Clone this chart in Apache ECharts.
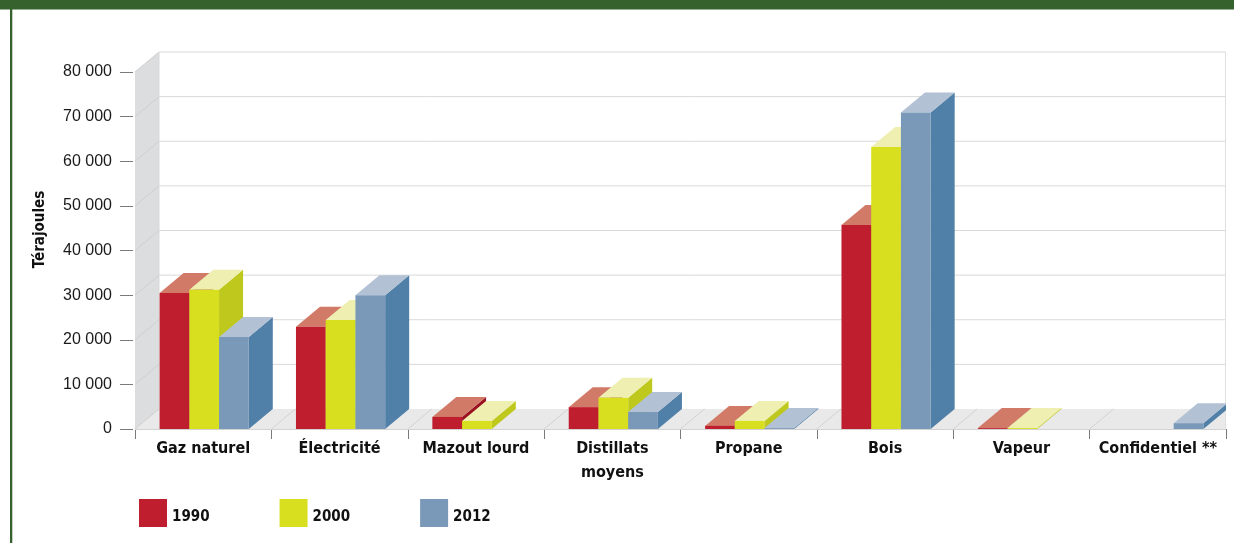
<!DOCTYPE html>
<html><head><meta charset="utf-8">
<style>html,body{margin:0;padding:0;background:#fff}#c{width:1234px;height:543px}</style>
<script src="https://cdn.jsdelivr.net/npm/echarts@6/dist/echarts.min.js"></script>
</head><body><div id="c"></div>
<script>
const categories = ['Gaz naturel','Électricité','Mazout lourd','Distillats\nmoyens','Propane','Bois','Vapeur','Confidentiel **'];
const years = ['1990','2000','2012'];
const values1990 = [30500,22900,2700,4900,700,45700,200,null];
const values2000 = [31200,24400,1800,7000,1800,63200,200,null];
const values2012 = [20600,30000,null,3800,200,70900,null,1300];
const yTicks = [0,10000,20000,30000,40000,50000,60000,70000,80000];

const frontColors = ['#bf1e2e','#d7df1e','#7a98b8'];
const topColors = ['#d27a68','#eeefb0','#b2c1d3'];
const sideColors = ['#9a1020','#bfc81c','#5080a8'];
const DX = 24, DY = 20, LABEL_FONT = '"DejaVu Sans Condensed",Roboto,sans-serif';

function poly(points, fill){ return {type:'polygon', shape:{points}, style:{fill}}; }
function line(x1,y1,x2,y2,stroke){ return {type:'line', shape:{x1,y1,x2,y2}, style:{stroke, lineWidth:1}}; }

function renderWalls(params, api){
  const band = api.size([1,0])[0];
  const c0 = api.coord([0,0]);
  const left = c0[0]-band/2, right = left+band*categories.length, bottom = c0[1];
  const top = api.coord([0,yTicks[yTicks.length-1]])[1];
  const ch = [];
  ch.push(poly([[left,top],[left+DX,top-DY],[left+DX,bottom-DY],[left,bottom]],'#dcddde'));
  ch.push(poly([[left,bottom],[left+DX,bottom-DY],[right,bottom-DY],[right,bottom]],'#e9e9e9'));
  yTicks.forEach(v=>{
    const y = api.coord([0,v])[1];
    if(v>0) ch.push(line(left+DX,y-DY,right,y-DY,'#d9d9d9'));
    ch.push(line(left,y,left+DX,y-DY,'#cfcfcf'));
  });
  categories.forEach((c,i)=>{
    if(i===0) return;
    const x = left+band*i;
    ch.push(line(x,bottom,x+DX,bottom-DY,'#d2d2d2'));
  });
  ch.push(line(left+DX,top-DY,left+DX,bottom-DY,'#d9d9d9'));
  ch.push(line(right-.5,top-DY,right-.5,bottom,'#e0e0e0'));
  ch.push(line(left,bottom+.5,right,bottom+.5,'#d2d2d2'));
  return {type:'group', children:ch};
}

function renderBar(s){
  return function(params, api){
    const band = api.size([1,0])[0];
    const w = band*0.218;
    const idx = api.value(0), val = api.value(1);
    const c = api.coord([idx,val]), b = api.coord([idx,0]);
    const x0 = c[0]+1+(s-1.5)*w, x1 = x0+w, yt = c[1], yb = b[1];
    return {type:'group', children:[
      poly([[x1,yt],[x1+DX,yt-DY],[x1+DX,yb-DY],[x1,yb]],sideColors[s]),
      poly([[x0,yt],[x0+DX,yt-DY],[x1+DX,yt-DY],[x1,yt]],topColors[s]),
      {type:'rect', shape:{x:x0,y:yt,width:w,height:yb-yt}, style:{fill:frontColors[s]}}
    ]};
  };
}
function rows(arr){ return arr.map((v,i)=>[i,v]).filter(r=>r[1]!==null); }

const chart = echarts.init(document.getElementById('c'),null,{renderer:'canvas'});
chart.setOption({
  animation:false,
  backgroundColor:'#fff',
  grid:{left:135,right:8,top:72,height:357,containLabel:false},
  graphic:[
    {type:'rect',left:0,top:0,shape:{width:1234,height:9.5},style:{fill:'#36622e'},z:10},
    {type:'rect',left:10,top:0,shape:{width:2.3,height:543},style:{fill:'#36622e'},z:10}
  ],
  legend:{
    left:139,top:499,padding:0,itemWidth:28,itemHeight:28,itemGap:70,icon:'rect',
    data:years,
    formatter:n=>'{a|'+n+'}',
    textStyle:{color:'#111',rich:{a:{fontFamily:LABEL_FONT,fontWeight:'bold',fontSize:15,color:'#111',padding:[8,0,0,0]}}}
  },
  xAxis:{
    type:'category',data:categories,offset:4,
    axisLine:{show:false},
    axisTick:{show:true,length:10,lineStyle:{color:'#7a7a7a',width:1}},
    axisLabel:{interval:0,margin:4,fontFamily:LABEL_FONT,fontWeight:'bold',fontSize:16,lineHeight:24,color:'#111',verticalAlign:'top'},
    splitLine:{show:false}
  },
  yAxis:{
    type:'value',min:0,max:80000,interval:10000,offset:2,
    name:'Térajoules',nameLocation:'middle',nameRotate:90,nameGap:85,
    nameTextStyle:{fontFamily:LABEL_FONT,fontWeight:'bold',fontSize:15,color:'#111',padding:[0,0,0,42]},
    axisLine:{show:false},
    axisTick:{show:true,length:13,lineStyle:{color:'#7a7a7a',width:1}},
    axisLabel:{margin:21,fontFamily:'"Liberation Sans",sans-serif',fontSize:16,color:'#1a1a1a',
      formatter:v=>String(v).replace(/\B(?=(\d{3})+$)/g,' ')},
    splitLine:{show:false}
  },
  series:[
    {type:'custom',name:'walls',z:1,silent:true,clip:false,renderItem:renderWalls,data:[[0,0]],encode:{x:0,y:1}},
    ...[values1990,values2000,values2012].map((arr,s)=>({
      type:'custom',name:years[s],z:2+s,silent:true,clip:true,
      itemStyle:{color:frontColors[s]},
      renderItem:renderBar(s),data:rows(arr),encode:{x:0,y:1}
    }))
  ]
});
</script></body></html>
